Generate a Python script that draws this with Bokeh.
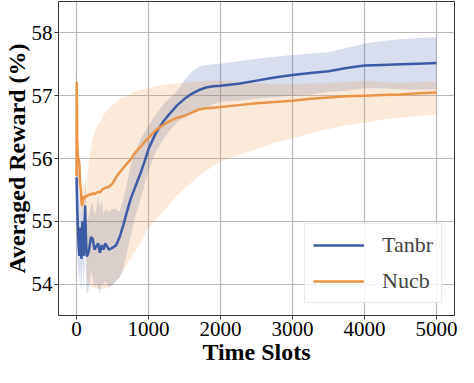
from bokeh.plotting import figure
from bokeh.models import ColumnDataSource, Range1d, FixedTicker, Legend, LegendItem
from bokeh.embed import file_html
from bokeh.resources import INLINE

x_slots = [0, 3, 10, 20, 30, 40, 50, 60, 70, 80, 90, 100, 110, 120, 130, 140, 150, 175, 200,
           225, 250, 275, 300, 325, 350, 375, 400, 450, 500, 550, 600, 650, 700, 750, 800,
           850, 900, 950, 1000, 1100, 1200, 1300, 1400, 1500, 1600, 1700, 1800, 1900, 2000,
           2250, 2500, 2750, 3000, 3250, 3500, 3750, 4000, 4250, 4500, 4750, 5000]

tanbr_mean = [55.70, 55.60, 55.20, 54.90, 54.60, 54.45, 54.90, 54.50, 54.40, 55.00, 54.60, 54.45,
              54.90, 55.25, 54.80, 54.45, 54.45, 54.55, 54.75, 54.72, 54.55, 54.60, 54.65, 54.50,
              54.62, 54.55, 54.65, 54.55, 54.58, 54.62, 54.75, 54.94, 55.15, 55.35, 55.50,
              55.65, 55.80, 55.97, 56.15, 56.40, 56.58, 56.72, 56.85, 56.95, 57.03, 57.09,
              57.13, 57.15, 57.16, 57.19, 57.24, 57.29, 57.33, 57.36, 57.39, 57.44, 57.48,
              57.49, 57.50, 57.51, 57.52]
tanbr_upper = [57.50, 57.30, 56.60, 56.00, 55.60, 55.30, 55.50, 55.20, 55.00, 55.50, 55.20, 55.00,
               55.30, 55.70, 55.40, 55.00, 55.00, 55.10, 55.25, 55.30, 55.10, 55.20, 55.40, 55.20,
               55.35, 55.10, 55.20, 55.15, 55.20, 55.20, 55.15, 55.35, 55.60, 55.88, 56.05,
               56.20, 56.33, 56.43, 56.52, 56.70, 56.85, 56.98, 57.08, 57.25, 57.38, 57.46,
               57.49, 57.50, 57.51, 57.55, 57.59, 57.62, 57.65, 57.67, 57.69, 57.76, 57.83,
               57.87, 57.90, 57.92, 57.93]
tanbr_lower = [55.00, 54.90, 54.60, 54.30, 54.10, 54.00, 54.30, 53.95, 53.90, 54.40, 54.10, 53.90,
               54.30, 54.60, 54.20, 53.85, 53.85, 53.95, 54.20, 54.10, 53.95, 54.00, 53.95, 53.85,
               54.00, 54.00, 54.05, 53.95, 53.98, 54.05, 54.10, 54.25, 54.50, 54.75, 55.00,
               55.20, 55.40, 55.60, 55.80, 56.10, 56.30, 56.45, 56.58, 56.65, 56.72, 56.78,
               56.82, 56.86, 56.90, 56.92, 56.95, 56.98, 57.00, 57.02, 57.06, 57.08, 57.12,
               57.12, 57.10, 57.10, 57.10]

nucb_mean = [55.72, 57.22, 56.30, 55.90, 56.00, 55.90, 55.60, 55.50, 55.30, 55.25, 55.35, 55.40,
             55.35, 55.40, 55.38, 55.42, 55.40, 55.43, 55.42, 55.45, 55.43, 55.45, 55.47, 55.46,
             55.50, 55.52, 55.53, 55.55, 55.60, 55.70, 55.78, 55.85, 55.92, 55.98, 56.07,
             56.14, 56.20, 56.27, 56.33, 56.45, 56.53, 56.60, 56.65, 56.68, 56.73, 56.78,
             56.80, 56.81, 56.82, 56.85, 56.88, 56.90, 56.92, 56.95, 56.97, 56.99, 57.00,
             57.01, 57.02, 57.04, 57.05]
nucb_upper = [55.80, 57.30, 56.60, 56.20, 56.30, 56.20, 55.90, 55.80, 55.60, 55.55, 55.60, 55.60,
              55.55, 55.60, 55.70, 55.50, 55.70, 56.00, 56.15, 56.30, 56.40, 56.48, 56.53, 56.58,
              56.63, 56.70, 56.73, 56.80, 56.85, 56.90, 56.95, 56.98, 57.00, 57.03, 57.06,
              57.08, 57.10, 57.11, 57.12, 57.15, 57.17, 57.19, 57.20, 57.21, 57.22, 57.23,
              57.24, 57.24, 57.24, 57.22, 57.20, 57.18, 57.18, 57.20, 57.20, 57.22, 57.24,
              57.22, 57.20, 57.22, 57.23]
nucb_lower = [55.65, 57.10, 56.00, 55.60, 55.70, 55.60, 55.30, 55.20, 55.00, 54.95, 55.10, 55.15,
              55.10, 55.00, 54.60, 54.20, 54.05, 54.00, 53.95, 53.95, 53.95, 53.93, 53.92, 53.93,
              53.92, 53.93, 53.93, 53.95, 54.00, 54.05, 54.12, 54.22, 54.30, 54.40, 54.50,
              54.58, 54.68, 54.80, 54.90, 55.02, 55.15, 55.28, 55.42, 55.52, 55.62, 55.72,
              55.80, 55.88, 55.95, 56.05, 56.15, 56.25, 56.32, 56.40, 56.47, 56.53, 56.57,
              56.62, 56.65, 56.68, 56.70]

x_ticks = [0, 1000, 2000, 3000, 4000, 5000]
y_ticks = [54, 55, 56, 57, 58]
series_names = ["Tanbr", "Nucb"]

BLUE = "#3C5BA5"
ORANGE = "#EA9447"
FONT = "Liberation Serif"

src = ColumnDataSource(dict(x=x_slots, tm=tanbr_mean, tu=tanbr_upper, tl=tanbr_lower,
                            nm=nucb_mean, nu=nucb_upper, nl=nucb_lower))

p = figure(width=458, height=367, output_backend="svg", toolbar_location=None,
           x_range=Range1d(-250, 5250), y_range=Range1d(53.5, 58.5),
           min_border_left=57, min_border_right=4, min_border_top=1, min_border_bottom=10)

p.varea(x="x", y1="tl", y2="tu", source=src, fill_color=BLUE, fill_alpha=0.2)
p.varea(x="x", y1="nl", y2="nu", source=src, fill_color=ORANGE, fill_alpha=0.2)
r1 = p.line(x="x", y="tm", source=src, line_color=BLUE, line_width=2.5)
r2 = p.line(x="x", y="nm", source=src, line_color=ORANGE, line_width=2.5)

p.xaxis.ticker = FixedTicker(ticks=x_ticks)
p.yaxis.ticker = FixedTicker(ticks=y_ticks)
for ax in (p.xaxis[0], p.yaxis[0]):
    ax.axis_line_color = None
    ax.major_tick_line_color = "#333333"
    ax.major_tick_out = 4
    ax.major_tick_in = 0
    ax.minor_tick_line_color = None
    ax.major_label_text_font = FONT
    ax.major_label_text_font_size = "21px"
    ax.major_label_text_color = "black"
    ax.axis_label_text_font = FONT
    ax.axis_label_text_font_size = "24px"
    ax.axis_label_text_font_style = "bold"
    ax.axis_label_text_color = "black"
p.xaxis.major_label_standoff = 2
p.xaxis.axis_label_standoff = 0
p.yaxis.major_label_standoff = 2
p.yaxis.axis_label_standoff = -1
p.xaxis.axis_label = "Time Slots"
p.yaxis.axis_label = "Averaged Reward (%)"

p.xgrid.grid_line_color = "#b8b8b8"
p.ygrid.grid_line_color = "#b8b8b8"
p.xgrid.grid_line_width = 1.2
p.ygrid.grid_line_width = 1.2
p.outline_line_color = "#333333"
p.outline_line_width = 1
p.background_fill_color = "white"

legend = Legend(items=[LegendItem(label=series_names[0], renderers=[r1]),
                       LegendItem(label=series_names[1], renderers=[r2])],
                location="bottom_right")
legend.label_text_font = FONT
legend.label_text_font_size = "22px"
legend.glyph_width = 51
legend.glyph_height = 24
legend.label_height = 24
legend.label_standoff = 18
legend.spacing = 10
legend.padding = 8
legend.margin = 12
legend.border_line_color = "#d6d6d6"
legend.border_line_width = 1
legend.background_fill_alpha = 0.8
p.add_layout(legend)

open("out.html", "w").write(file_html(p, INLINE))
